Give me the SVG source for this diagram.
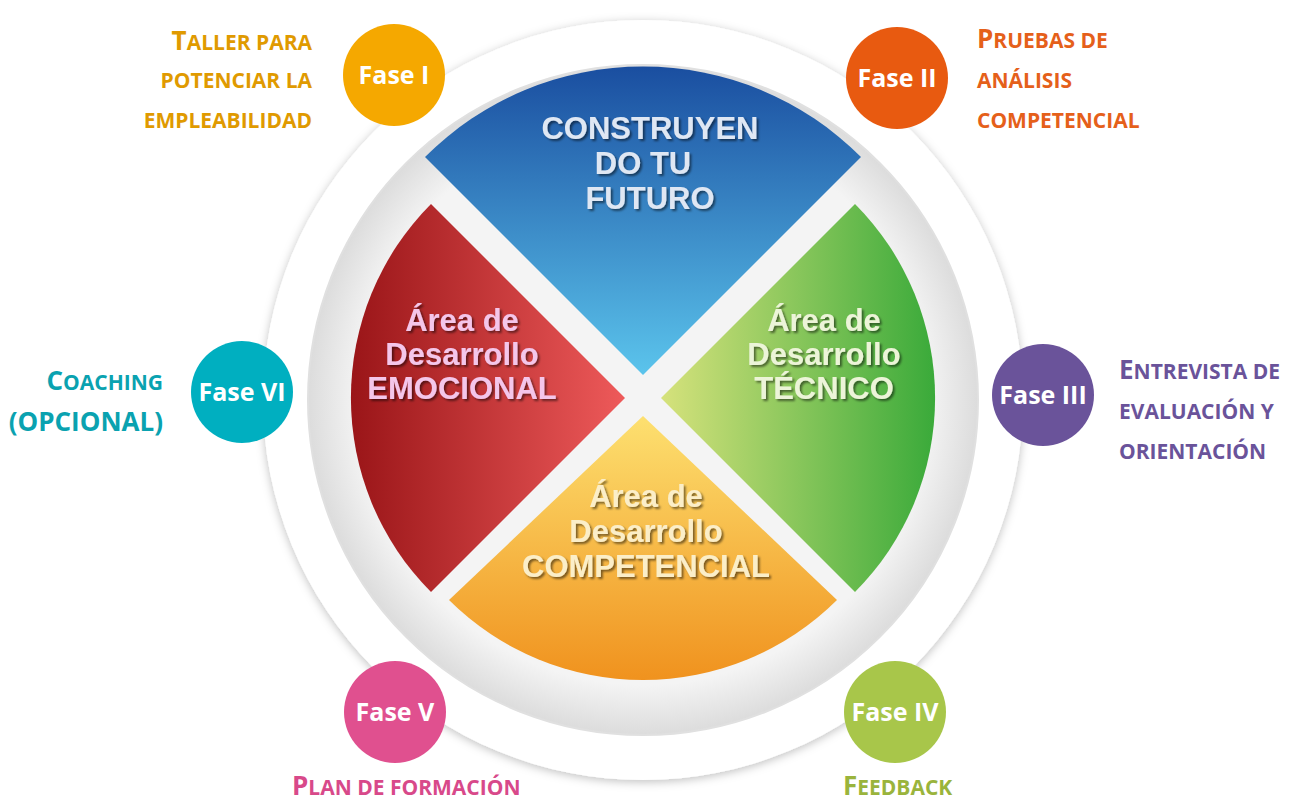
<svg xmlns="http://www.w3.org/2000/svg" width="1296" height="805" viewBox="0 0 1296 805">
<defs>
<style>
.lbl{font-family:"Open Sans","Liberation Sans",sans-serif;font-weight:bold;font-size:26px}
.sm{font-size:21px}
.fase{font-family:"Open Sans","Liberation Sans",sans-serif;font-weight:bold;font-size:25px;fill:#fff;text-anchor:middle}
.sec{font-family:"Liberation Sans","Open Sans",sans-serif;font-weight:bold;font-size:31px;text-anchor:middle;filter:url(#ts)}
</style>
<filter id="sh" x="-20%" y="-20%" width="140%" height="140%"><feDropShadow dx="0" dy="2" stdDeviation="5" flood-color="#000" flood-opacity="0.25"/></filter>
<filter id="ts" x="-10%" y="-30%" width="120%" height="160%"><feDropShadow dx="2" dy="2" stdDeviation="1" flood-color="#000" flood-opacity="0.5"/></filter>
<linearGradient id="gb" x1="0" y1="0" x2="0" y2="1"><stop offset="0" stop-color="#1a4ea0"/><stop offset="1" stop-color="#5bc4ec"/></linearGradient>
<linearGradient id="gr" x1="0" y1="0" x2="1" y2="0"><stop offset="0" stop-color="#9a1518"/><stop offset="1" stop-color="#ee5a5a"/></linearGradient>
<linearGradient id="gg" x1="0" y1="0" x2="1" y2="0"><stop offset="0" stop-color="#d6e27c"/><stop offset="1" stop-color="#3aaa3a"/></linearGradient>
<linearGradient id="go" x1="0" y1="0" x2="0" y2="1"><stop offset="0" stop-color="#fde070"/><stop offset="1" stop-color="#f0921e"/></linearGradient>
<radialGradient id="gd" cx="0.5" cy="0.5" r="0.5"><stop offset="0.85" stop-color="#f4f4f4"/><stop offset="1" stop-color="#dcdcdc"/></radialGradient>
</defs>
<rect width="1296" height="805" fill="#fff"/>
<g id="ring">
<circle cx="643" cy="400" r="380" fill="#fff" filter="url(#sh)"/>
<circle cx="643" cy="400" r="335" fill="url(#gd)" stroke="#e0e0e0" stroke-width="2"/>
</g>
<g id="blue">
<path d="M643,375 L425,157 A308,308 0 0 1 861,157 Z" fill="url(#gb)"/>
<text class="sec" fill="#dfe7f3"><tspan x="650" y="139">CONSTRUYEN</tspan><tspan x="643" y="174">DO TU</tspan><tspan x="650" y="209">FUTURO</tspan></text>
</g>
<g id="red">
<path d="M625,398 L431,204 A275,275 0 0 0 431,592 Z" fill="url(#gr)"/>
<text class="sec" fill="#f4c6ea"><tspan x="462" y="331">Área de</tspan><tspan x="462" y="365">Desarrollo</tspan><tspan x="462" y="399">EMOCIONAL</tspan></text>
</g>
<g id="green">
<path d="M661,398 L855,204 A275,275 0 0 1 855,592 Z" fill="url(#gg)"/>
<text class="sec" fill="#ecf4d8"><tspan x="824" y="331">Área de</tspan><tspan x="824" y="365">Desarrollo</tspan><tspan x="824" y="399">TÉCNICO</tspan></text>
</g>
<g id="orange">
<path d="M643,416 L449,600 A275,275 0 0 0 837,600 Z" fill="url(#go)"/>
<text class="sec" fill="#fbeec8"><tspan x="646" y="507">Área de</tspan><tspan x="646" y="542">Desarrollo</tspan><tspan x="646" y="577">COMPETENCIAL</tspan></text>
</g>
<g id="fase1"><circle cx="394" cy="75" r="51" fill="#f5a800"/><text class="fase" x="394" y="84">Fase I</text>
<text class="lbl" fill="#e09a00" text-anchor="end"><tspan x="312" y="50">T<tspan class="sm">ALLER PARA</tspan></tspan><tspan class="sm" x="312" y="88">POTENCIAR LA</tspan><tspan class="sm" x="312" y="128">EMPLEABILIDAD</tspan></text></g>
<g id="fase2"><circle cx="897" cy="78" r="51" fill="#e85a10"/><text class="fase" x="897" y="87">Fase II</text>
<text class="lbl" fill="#e5601a"><tspan x="977" y="48">P<tspan class="sm">RUEBAS DE</tspan></tspan><tspan class="sm" x="977" y="88">ANÁLISIS</tspan><tspan class="sm" x="977" y="128">COMPETENCIAL</tspan></text></g>
<g id="fase3"><circle cx="1043" cy="395" r="51" fill="#6a539a"/><text class="fase" x="1043" y="404">Fase III</text>
<text class="lbl" fill="#6a539a"><tspan x="1119" y="379">E<tspan class="sm">NTREVISTA DE</tspan></tspan><tspan class="sm" x="1119" y="419">EVALUACIÓN Y</tspan><tspan class="sm" x="1119" y="459">ORIENTACIÓN</tspan></text></g>
<g id="fase4"><circle cx="895" cy="712" r="51" fill="#a8c64a"/><text class="fase" x="895" y="721">Fase IV</text>
<text class="lbl" fill="#9ab43c"><tspan x="843" y="795">F<tspan class="sm">EEDBACK</tspan></tspan></text></g>
<g id="fase5"><circle cx="395" cy="712" r="51" fill="#e0508f"/><text class="fase" x="395" y="721">Fase V</text>
<text class="lbl" fill="#d8498a"><tspan x="292" y="795">P<tspan class="sm">LAN DE FORMACIÓN</tspan></tspan></text></g>
<g id="fase6"><circle cx="242" cy="392" r="51" fill="#00afc0"/><text class="fase" x="242" y="401">Fase VI</text>
<text class="lbl" fill="#0aa2b0" text-anchor="end"><tspan x="163" y="390">C<tspan class="sm">OACHING</tspan></tspan><tspan x="163" y="431">(OPCIONAL)</tspan></text></g>
<g id="connectors"/>
</svg>
